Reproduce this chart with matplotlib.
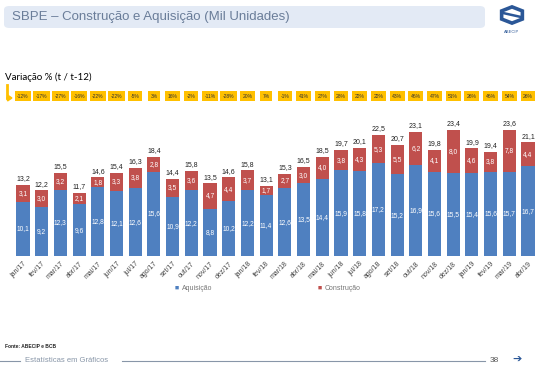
import numpy as np
import matplotlib
matplotlib.use("Agg")
import matplotlib.pyplot as plt
from matplotlib.patches import FancyBboxPatch, RegularPolygon
import matplotlib.transforms as mtransforms

plt.rcParams['font.family'] = ['Liberation Sans', 'DejaVu Sans']

# dados (mil unidades)
meses = ['jan/17', 'fev/17', 'mar/17', 'abr/17', 'mai/17', 'jun/17', 'jul/17',
         'ago/17', 'set/17', 'out/17', 'nov/17', 'dez/17', 'jan/18', 'fev/18',
         'mar/18', 'abr/18', 'mai/18', 'jun/18', 'jul/18', 'ago/18', 'set/18',
         'out/18', 'nov/18', 'dez/18', 'jan/19', 'fev/19', 'mar/19', 'abr/19']
aquisicao = [10.1, 9.2, 12.3, 9.6, 12.8, 12.1, 12.6, 15.6, 10.9, 12.2, 8.8, 10.2,
             12.2, 11.4, 12.6, 13.5, 14.4, 15.9, 15.8, 17.2, 15.2, 16.9, 15.6,
             15.5, 15.4, 15.6, 15.7, 16.7]
construcao = [3.1, 3.0, 3.2, 2.1, 1.8, 3.3, 3.8, 2.8, 3.5, 3.6, 4.7, 4.4,
              3.7, 1.7, 2.7, 3.0, 4.0, 3.8, 4.3, 5.3, 5.5, 6.2, 4.1,
              8.0, 4.6, 3.8, 7.8, 4.4]
totais = [13.2, 12.2, 15.5, 11.7, 14.6, 15.4, 16.3, 18.4, 14.4, 15.8, 13.5, 14.6,
          15.8, 13.1, 15.3, 16.5, 18.5, 19.7, 20.1, 22.5, 20.7, 23.1, 19.8,
          23.4, 19.9, 19.4, 23.6, 21.1]
variacao = ['-12%', '-17%', '-27%', '-16%', '-22%', '-22%', '-5%', '3%', '16%',
            '-2%', '-11%', '-28%', '20%', '7%', '-1%', '41%', '27%', '28%', '22%',
            '22%', '43%', '46%', '47%', '51%', '26%', '46%', '54%', '26%']

azul = '#4f80c0'
vermelho = '#c0504d'
amarelo = '#ffc000'

fig = plt.figure(figsize=(5.44, 3.69), dpi=100)
fig.patch.set_facecolor('white')

# barra do titulo
titulo_box = FancyBboxPatch((4 / 544, 1 - 28 / 369), 481 / 544, 22 / 369,
                            boxstyle="round,pad=0,rounding_size=0.01",
                            transform=fig.transFigure, facecolor='#e3eaf5',
                            edgecolor='none')
fig.patches.append(titulo_box)
fig.text(12 / 544, 1 - 17 / 369, 'SBPE – Construção e Aquisição (Mil Unidades)',
         fontsize=9.5, color='#6a7d99', va='center', ha='left')

# logo
hexa = RegularPolygon((512 / 544, 1 - 15 / 369), 6, radius=0.022,
                      transform=fig.transFigure, facecolor='white',
                      edgecolor='#2b5797', linewidth=2.6)
fig.patches.append(hexa)
fig.lines.append(plt.Line2D([503 / 544, 521 / 544], [1 - 13 / 369, 1 - 17 / 369],
                            transform=fig.transFigure, color='#2b5797', lw=1.8))
fig.text(512 / 544, 1 - 33 / 369, 'ABECIP', fontsize=3, color='#2b5797', ha='center')

# variacao
fig.text(5 / 544, 1 - 77 / 369, 'Variação % (t / t-12)', fontsize=7,
         family=['Lato', 'DejaVu Sans'], color='black', va='center')
fig.lines.append(plt.Line2D([7 / 544, 7 / 544], [1 - 85 / 369, 1 - 98 / 369],
                            transform=fig.transFigure, color=amarelo, lw=2))
fig.patches.append(matplotlib.patches.FancyArrow(7 / 544, 1 - 98 / 369, 0.009, 0,
                   width=0.004, head_width=0.016, head_length=0.008,
                   transform=fig.transFigure, color=amarelo,
                   length_includes_head=True))

ax = fig.add_axes([13.6 / 544, 113 / 369, 523.8 / 544, 134.5 / 369])
x = np.arange(len(meses))
ax.bar(x, aquisicao, width=0.7, color=azul, label='Aquisição')
ax.bar(x, construcao, width=0.7, bottom=aquisicao, color=vermelho, label='Construção')

for i in range(len(meses)):
    ax.text(x[i], aquisicao[i] / 2, f'{aquisicao[i]:.1f}'.replace('.', ','),
            ha='center', va='center', fontsize=4.8, color='white')
    ax.text(x[i], aquisicao[i] + construcao[i] / 2,
            f'{construcao[i]:.1f}'.replace('.', ','),
            ha='center', va='center', fontsize=4.8, color='white')
    ax.text(x[i], aquisicao[i] + construcao[i] + 0.5,
            f'{totais[i]:.1f}'.replace('.', ','),
            ha='center', va='bottom', fontsize=5, color='#222222')

trans = mtransforms.blended_transform_factory(ax.transData, fig.transFigure)
for i, v in enumerate(variacao):
    ax.text(x[i], 1 - 96 / 369, v, transform=trans, ha='center', va='center',
            fontsize=3.6, color='#333333',
            bbox=dict(boxstyle='square,pad=0.5', facecolor=amarelo, edgecolor='none'))

ax.set_xlim(-0.5, len(meses) - 0.5)
ax.set_ylim(0, 25)
ax.set_yticks([])
ax.set_xticks(x)
ax.set_xticklabels(meses, rotation=45, ha='right', rotation_mode='anchor',
                   fontsize=5, color='#444444')
ax.tick_params(axis='x', length=0, pad=3)
for s in ax.spines.values():
    s.set_visible(False)

# legenda
fig.text(175 / 544, 1 - 289 / 369, '■ ', fontsize=5, color=azul, va='center')
fig.text(182 / 544, 1 - 289 / 369, 'Aquisição', fontsize=5, color='#777777', va='center')
fig.text(318 / 544, 1 - 289 / 369, '■ ', fontsize=5, color=vermelho, va='center')
fig.text(325 / 544, 1 - 289 / 369, 'Construção', fontsize=5, color='#777777', va='center')

# rodape
fig.text(5 / 544, 1 - 347 / 369, 'Fonte: ABECIP e BCB', fontsize=3.5,
         fontweight='bold', color='#222222', va='center')
fig.lines.append(plt.Line2D([0, 20 / 544], [1 - 361 / 369] * 2,
                            transform=fig.transFigure, color='#8896a8', lw=0.8))
fig.lines.append(plt.Line2D([122 / 544, 485 / 544], [1 - 361 / 369] * 2,
                            transform=fig.transFigure, color='#8896a8', lw=0.8))
fig.text(25 / 544, 1 - 361 / 369, 'Estatísticas em Gráficos', fontsize=5.5,
         color='#8896a8', va='center')
fig.text(490 / 544, 1 - 360 / 369, '38', fontsize=6, color='#555555', va='center')
fig.text(512 / 544, 1 - 360 / 369, '➔', fontsize=8, family=['DejaVu Sans'],
         color='#2b5797', va='center')

plt.savefig('out.png', dpi=100)
plt.close()
